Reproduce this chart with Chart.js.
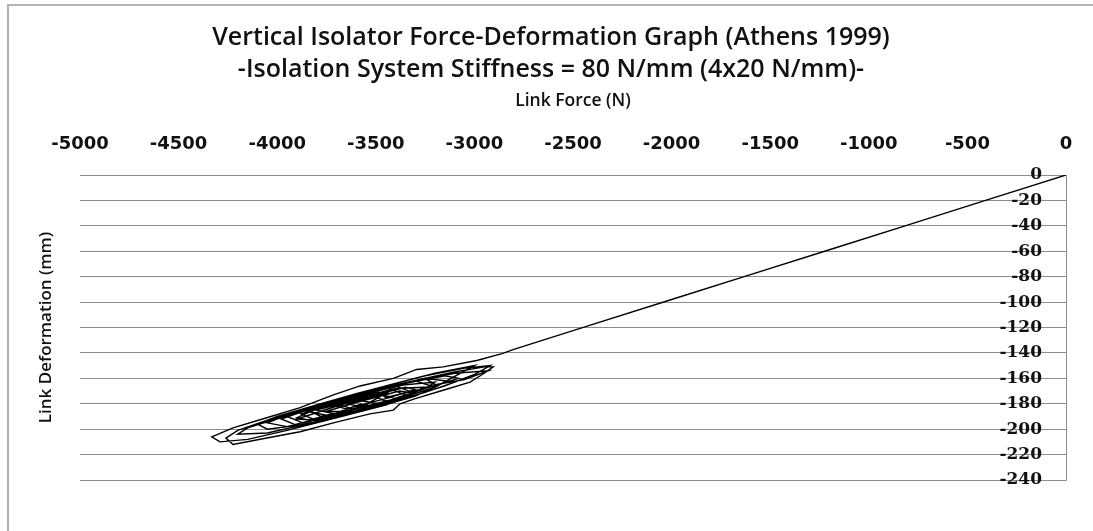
<!DOCTYPE html>
<html>
<head>
<meta charset="utf-8">
<title>Vertical Isolator Force-Deformation Graph</title>
<script src="https://cdn.jsdelivr.net/npm/chart.js@4.4.1/dist/chart.umd.min.js"></script>
<style>
    html, body { margin: 0; padding: 0; background: #fff; }
    #wrap { position: relative; width: 1093px; height: 531px; overflow: hidden; }
    #frame { position: absolute; left: 7px; top: 4px; width: 1200px; height: 600px; border: 2px solid #b4b4b4; box-sizing: border-box; pointer-events: none; }
    canvas { position: absolute; left: 0; top: 0; }
</style>
</head>
<body>
<div id="wrap">
    <canvas id="isolatorChart" width="1093" height="531"></canvas>
    <div id="frame"></div>
</div>
<script>
// Vertical isolator hysteresis

const chartTitle = [
    'Vertical Isolator Force-Deformation Graph (Athens 1999)',
    '-Isolation System Stiffness = 80 N/mm (4x20 N/mm)-'
];
const xAxisTitle = 'Link Force (N)';
const yAxisTitle = 'Link Deformation (mm)';

// tick ranges
const forceTicks = { min: -5000, max: 0, step: 500 };
const deformTicks = { min: -240, max: 0, step: 20 };

// link force (N), one entry per sample, one row per cycle
const linkForce = [
    0, -400, -800, -1200, -1600, -2000, -2400, -2800, -2860,
    -2988, -3158, -3293, -3411, -3580, -3715, -3884, -4053, -4224, -4332, -4290, -4150, -3950, -3750, -3550, -3350, -3150, -3000, -2920,
    -3050, -3250, -3450, -3650, -3850, -4050, -4200, -4260, -4224, -4053, -3884, -3715, -3530, -3411, -3377, -3300, -3150, -3022, -2960, -2905,
    -2950, -3100, -3250, -3200, -3050, -2930,
    -3100, -3300, -3500, -3450, -3250, -3080,
    -3150, -3350, -3550, -3700, -3620, -3400, -3200,
    -3000, -3200, -3400, -3600, -3800, -4000, -4100, -4050, -3850, -3650, -3450, -3250, -3100,
    -3250, -3450, -3650, -3850, -3980, -3900, -3700, -3500, -3300, -3200,
    -3300, -3500, -3700, -3900, -4150, -4200, -4050, -3850, -3650, -3450, -3300,
    -3400, -3600, -3800, -3950, -3870, -3680, -3500, -3350,
    -3450, -3650, -3850, -3780, -3580, -3400, -3250, -3200,
    -3350, -3550, -3750, -3950, -4050, -3950, -3750, -3550, -3380,
    -3500, -3700, -3850, -3750, -3550, -3350, -3250,
    -3400, -3600, -3800, -3900, -3800, -3600, -3420,
    -3520, -3720, -3880, -3820, -3620, -3450,
    -3550, -3750, -3650, -3450, -3300, -3350,
    -3500, -3700, -3900, -3800, -3600, -3480,
    -3600, -3800, -3700, -3550, -3520,
    -3450, -3650, -3550, -3400, -3300, -3380,
    -3600, -3750, -3680, -3570
];

// link deformation (mm), same samples
const linkDeformation = [
    0, -19.6, -39.2, -58.8, -78.4, -98, -117.6, -137.2, -140.5,
    -146, -151, -153, -160, -166, -173, -183, -191, -199, -206, -210, -208, -201, -193, -185, -176, -166, -157, -150,
    -152, -158, -166, -175, -184, -193, -201, -207, -212, -207, -202, -195, -188, -185, -180, -176, -169, -163, -157, -151,
    -151, -155, -160, -165, -161, -154,
    -156, -162, -169, -175, -168, -160,
    -158, -164, -171, -180, -184, -177, -167,
    -150, -156, -164, -172, -181, -190, -196, -200, -196, -188, -180, -171, -163,
    -160, -167, -176, -185, -192, -197, -191, -183, -174, -167,
    -162, -170, -178, -187, -199, -204, -203, -196, -189, -181, -172,
    -166, -173, -182, -190, -195, -189, -181, -173,
    -167, -175, -184, -190, -183, -176, -168, -163,
    -165, -172, -180, -189, -195, -198, -190, -184, -177,
    -171, -179, -186, -189, -182, -174, -167,
    -168, -176, -184, -191, -194, -187, -179,
    -174, -181, -188, -192, -185, -178,
    -172, -180, -184, -176, -169, -167,
    -173, -182, -192, -193, -186, -180,
    -177, -185, -188, -181, -178,
    -172, -180, -183, -177, -172, -170,
    -179, -186, -186, -180
];

document.addEventListener('DOMContentLoaded', () => {
    initIsolatorChart();
});

function initIsolatorChart() {
    const ctx = document.getElementById('isolatorChart').getContext('2d');

    const points = linkForce.map((f, i) => ({ x: f, y: linkDeformation[i] }));

    new Chart(ctx, {
        type: 'scatter',
        data: {
            datasets: [{
                label: 'Link',
                data: points,
                showLine: true,
                borderColor: '#000',
                borderWidth: 1.4,
                pointRadius: 0,
                pointHoverRadius: 0,
                tension: 0,
                yAxisID: 'y'
            }]
        },
        options: {
            responsive: false,
            animation: false,
            layout: {
                padding: { left: 36, right: 27, top: 0, bottom: 51 }
            },
            plugins: {
                legend: { display: false },
                tooltip: { enabled: false },
                title: {
                    display: true,
                    text: chartTitle,
                    color: '#111',
                    font: { family: 'Open Sans', size: 25, weight: '600', lineHeight: 1.28 },
                    padding: { top: 22, bottom: 0 }
                }
            },
            scales: {
                x: {
                    type: 'linear',
                    position: 'top',
                    min: forceTicks.min,
                    max: forceTicks.max,
                    afterFit: (scale) => { scale.height = 89; },
                    grid: { display: false, drawTicks: false },
                    border: { display: false },
                    ticks: {
                        stepSize: forceTicks.step,
                        color: '#111',
                        padding: 20,
                        maxRotation: 0,
                        font: { family: 'DejaVu Sans', size: 18, weight: 'bold' },
                        callback: (value) => String(value)
                    },
                    title: {
                        display: true,
                        text: xAxisTitle,
                        color: '#111',
                        font: { family: 'Open Sans', size: 17.5, weight: '600' },
                        padding: { top: 4.5, bottom: 0 }
                    }
                },
                y: {
                    type: 'linear',
                    position: 'right',
                    min: deformTicks.min,
                    max: deformTicks.max,
                    afterFit: (scale) => { scale.width = 0; },
                    grid: { color: '#8c8c8c', lineWidth: 1, drawTicks: false },
                    border: { display: true, color: '#8c8c8c', width: 1 },
                    ticks: {
                        stepSize: deformTicks.step,
                        mirror: true,
                        padding: -24,
                        color: '#111',
                        font: { family: 'DejaVu Serif', size: 17, weight: 'bold' },
                        callback: (value) => String(value)
                    }
                },
                yTitle: {
                    type: 'linear',
                    position: 'left',
                    min: deformTicks.min,
                    max: deformTicks.max,
                    afterFit: (scale) => { scale.width = 44; },
                    grid: { display: false, drawTicks: false },
                    border: { display: false },
                    ticks: { display: false },
                    title: {
                        display: true,
                        text: yAxisTitle,
                        color: '#111',
                        font: { family: 'Open Sans', size: 17, weight: '600' },
                        padding: { top: 0, bottom: 0 }
                    }
                }
            }
        }
    });
}
</script>
</body>
</html>
